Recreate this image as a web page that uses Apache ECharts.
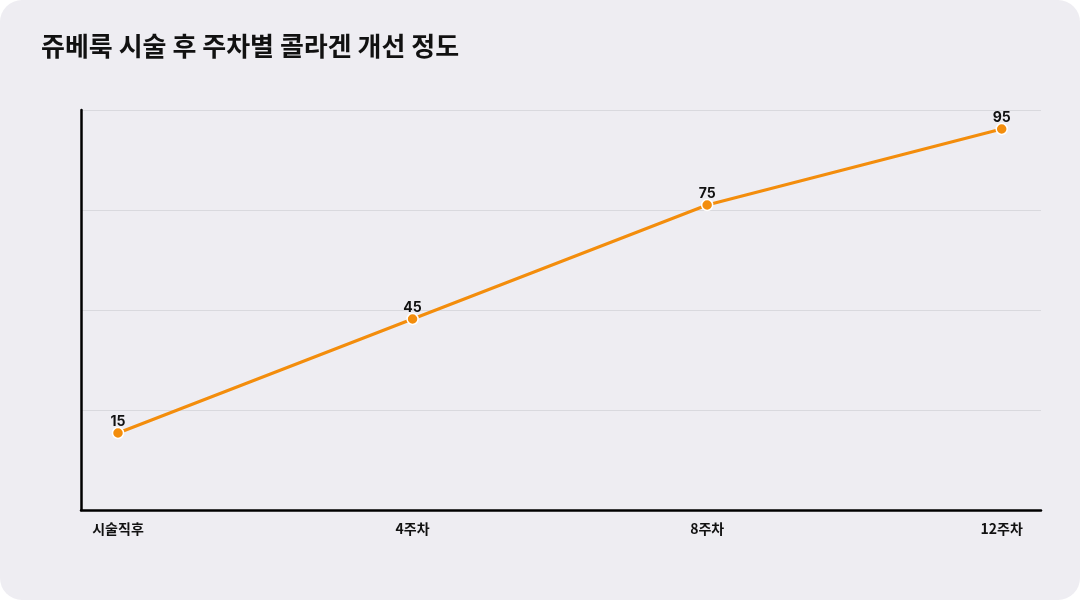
<!DOCTYPE html>
<html>
<head>
<meta charset="utf-8">
<script src="https://cdn.jsdelivr.net/npm/echarts@6/dist/echarts.min.js"></script>
<style>
  html, body { margin: 0; padding: 0; background: #ffffff; }
  .card {
    width: 1080px;
    height: 600px;
    background: #eeedf2;
    border-radius: 22px;
    overflow: hidden;
  }
  #chart { width: 1080px; height: 600px; }
</style>
</head>
<body>
<div class="card"><div id="chart"></div></div>
<script>
// data
const categories = ['시술직후', '4주차', '8주차', '12주차']
const values = [15, 45, 75, 95]

const font = "Inter, 'Noto Sans CJK KR', sans-serif"

const myChart = echarts.init(document.getElementById('chart'))

const option = {
  backgroundColor: 'transparent',
  title: {
    text: '쥬베룩 시술 후 주차별 콜라겐 개선 정도',
    left: 36,
    top: 28,
    textStyle: {
      fontFamily: "'Noto Sans CJK KR', sans-serif",
      fontSize: 26,
      fontWeight: 'bold',
      color: '#111111'
    }
  },
  grid: {
    left: 81,
    right: 39,
    top: 110,
    bottom: 90
  },
  xAxis: {
    type: 'value',
    min: -0.1256,
    max: 3.1334,
    axisLine: { show: true, onZero: false, lineStyle: { color: '#000000', width: 2.5 } },
    axisTick: { show: false },
    splitLine: { show: false },
    axisLabel: {
      customValues: [0, 1, 2, 3],
      formatter: v => categories[v],
      margin: 12,
      fontFamily: "'Noto Sans CJK KR', sans-serif",
      fontSize: 14,
      fontWeight: 'bold',
      color: '#111111'
    }
  },
  yAxis: {
    type: 'value',
    min: -5.2632,
    max: 100,
    interval: 26.3158,
    axisLine: { show: true, onZero: false, lineStyle: { color: '#000000', width: 2.5 } },
    axisTick: { show: false },
    axisLabel: { show: false },
    splitLine: { show: true, lineStyle: { color: '#d9d9de', width: 1 } }
  },
  series: [
    {
      type: 'line',
      data: values.map((v, i) => [i, v]),
      symbol: 'circle',
      symbolSize: 11,
      itemStyle: {
        color: '#f38d0c',
        borderColor: '#ffffff',
        borderWidth: 1.5
      },
      lineStyle: {
        color: '#f38d0c',
        width: 3
      },
      label: {
        show: true,
        position: 'top',
        distance: -2,
        fontFamily: font,
        fontSize: 14,
        fontWeight: 'bold',
        color: '#111111'
      }
    }
  ]
}
myChart.setOption(option)
</script>
</body>
</html>
